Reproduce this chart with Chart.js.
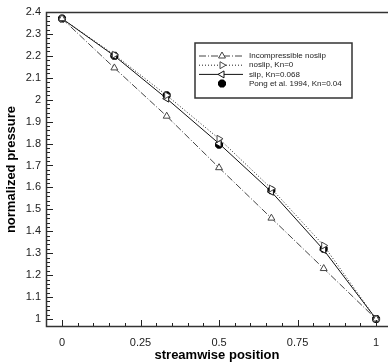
<!DOCTYPE html>
<html>
<head>
<meta charset="utf-8">
<script src="https://cdn.jsdelivr.net/npm/chart.js@4/dist/chart.umd.min.js"></script>
<style>
  html, body { margin: 0; padding: 0; background: #fff; }
  #wrap { width: 388px; height: 363px; }
</style>
</head>
<body>
<div id="wrap"><canvas id="c" width="388" height="363"></canvas></div>
<script>
// streamwise positions of the data points
const positions = [0, 0.1667, 0.3333, 0.5, 0.6667, 0.8333, 1];

// normalized pressure for each series
const incompNoslip = [2.37, 2.145, 1.925, 1.69, 1.46, 1.23, 1.0];
const noslipKn0 = [2.37, 2.205, 2.02, 1.822, 1.595, 1.335, 1.0];
const slipKn068 = [2.37, 2.2, 2.005, 1.8, 1.58, 1.315, 1.0];
const pong1994 = [2.37, 2.2, 2.02, 1.795, 1.587, 1.32, 1.0];

const seriesNames = [
    'Incompressible noslip',
    'noslip, Kn=0',
    'slip, Kn=0.068',
    'Pong et al. 1994, Kn=0.04'
];

// tick labels
const xTicks = [0, 0.25, 0.5, 0.75, 1];
const yTicks = [1, 1.1, 1.2, 1.3, 1.4, 1.5, 1.6, 1.7, 1.8, 1.9, 2, 2.1, 2.2, 2.3, 2.4];

function toPoints(vals) {
    return vals.map((v, i) => ({ x: positions[i], y: v }));
}

// inward ticks + frame, tecplot style
const framePlugin = {
    id: 'frame',
    afterDatasetsDraw(chart) {
        const ctx = chart.ctx;
        const a = chart.chartArea;
        const xs = chart.scales.x;
        const ys = chart.scales.y;
        ctx.save();
        ctx.strokeStyle = '#222';
        ctx.lineWidth = 1;
        ctx.beginPath();
        // major + minor ticks on x
        for (let i = 0; i <= 20; i++) {
            const v = i * 0.05;
            const px = Math.round(xs.getPixelForValue(v)) + 0.5;
            const len = (i % 5 === 0) ? 7 : 4;
            ctx.moveTo(px, a.bottom);
            ctx.lineTo(px, a.bottom - len);
        }
        // major + minor ticks on y
        for (let i = 0; i <= 70; i++) {
            const v = 1 + i * 0.02;
            const py = Math.round(ys.getPixelForValue(v)) + 0.5;
            const len = (i % 5 === 0) ? 7 : 4;
            ctx.moveTo(a.left, py);
            ctx.lineTo(a.left + len, py);
        }
        ctx.stroke();

        // frame; the right side runs off the picture
        ctx.lineWidth = 1.5;
        ctx.strokeStyle = '#333';
        ctx.strokeRect(a.left + 0.5, a.top + 0.5, a.right - a.left + 4, a.bottom - a.top - 1);
        ctx.restore();
    }
};

// legend box inside the plot
const boxLegend = {
    id: 'boxLegend',
    afterDraw(chart) {
        const ctx = chart.ctx;
        const bx = 195, by = 43, bw = 157, bh = 55;
        ctx.save();
        ctx.fillStyle = '#fff';
        ctx.fillRect(bx, by, bw, bh);
        ctx.strokeStyle = '#333';
        ctx.lineWidth = 1.5;
        ctx.strokeRect(bx, by, bw, bh);
        chart.data.datasets.forEach((ds, i) => {
            const y = 56 + i * 9.2;
            if (ds.showLine !== false) {
                ctx.beginPath();
                ctx.strokeStyle = ds.borderColor;
                ctx.lineWidth = ds.borderWidth;
                ctx.setLineDash(ds.borderDash || []);
                ctx.moveTo(199, y);
                ctx.lineTo(243, y);
                ctx.stroke();
                ctx.setLineDash([]);
            }
            ctx.fillStyle = ds.pointBackgroundColor;
            ctx.strokeStyle = ds.pointBorderColor;
            ctx.lineWidth = ds.pointBorderWidth;
            Chart.helpers.drawPoint(ctx, {
                pointStyle: ds.pointStyle,
                rotation: ds.pointRotation || 0,
                radius: ds.pointRadius,
                borderWidth: ds.pointBorderWidth
            }, 222, y);
            ctx.fillStyle = '#222';
            ctx.font = '8px "Liberation Sans", Arial, sans-serif';
            ctx.textBaseline = 'middle';
            ctx.fillText(ds.label, 249, y);
        });
        ctx.restore();
    }
};

const ctx = document.getElementById('c').getContext('2d');

new Chart(ctx, {
    type: 'line',
    data: {
        datasets: [
            {
                label: seriesNames[0],
                data: toPoints(incompNoslip),
                borderColor: '#444',
                borderWidth: 1,
                borderDash: [7, 2, 1, 2],
                pointStyle: 'triangle',
                pointRadius: 4,
                pointBorderWidth: 1,
                pointBorderColor: '#444',
                pointBackgroundColor: '#fff'
            },
            {
                label: seriesNames[1],
                data: toPoints(noslipKn0),
                borderColor: '#222',
                borderWidth: 1,
                borderDash: [1, 2],
                pointStyle: 'triangle',
                pointRotation: 90,
                pointRadius: 4,
                pointBorderWidth: 1,
                pointBorderColor: '#444',
                pointBackgroundColor: '#fff'
            },
            {
                label: seriesNames[2],
                data: toPoints(slipKn068),
                borderColor: '#111',
                borderWidth: 1,
                pointStyle: 'triangle',
                pointRotation: -90,
                pointRadius: 4,
                pointBorderWidth: 1,
                pointBorderColor: '#111',
                pointBackgroundColor: '#fff'
            },
            {
                label: seriesNames[3],
                data: toPoints(pong1994),
                showLine: false,
                borderColor: '#000',
                pointStyle: 'star',
                pointRadius: 4,
                pointBorderWidth: 3,
                pointBorderColor: '#000',
                pointBackgroundColor: '#000'
            }
        ]
    },
    options: {
        responsive: false,
        animation: false,
        layout: { autoPadding: false, padding: { top: 12, right: 0, left: 0, bottom: 0 } },
        plugins: {
            legend: { display: false },
            tooltip: { enabled: false }
        },
        scales: {
            x: {
                type: 'linear',
                min: -0.051,
                max: 1.038,
                grid: { display: false, drawTicks: false },
                border: { display: false },
                afterBuildTicks: (s) => { s.ticks = xTicks.map(v => ({ value: v })); },
                afterFit: (s) => { s.height = 36; s.paddingLeft = 0; s.paddingRight = 0; },
                ticks: {
                    padding: 9,
                    color: '#222',
                    font: { family: '"Liberation Sans", Arial, sans-serif', size: 11 },
                    callback: (v) => String(v)
                },
                title: {
                    display: true,
                    text: 'streamwise position',
                    color: '#000',
                    padding: { top: 0, bottom: 0 },
                    font: { family: '"Liberation Sans", Arial, sans-serif', size: 13, weight: 'bold' }
                }
            },
            y: {
                type: 'linear',
                min: 0.9635,
                max: 2.4,
                grid: { display: false, drawTicks: false },
                border: { display: false },
                afterBuildTicks: (s) => { s.ticks = yTicks.map(v => ({ value: v })); },
                afterFit: (s) => { s.width = 46; s.paddingTop = 0; s.paddingBottom = 0; },
                ticks: {
                    padding: 5,
                    color: '#222',
                    font: { family: '"Liberation Sans", Arial, sans-serif', size: 11 },
                    callback: (v) => String(v)
                },
                title: {
                    display: true,
                    text: 'normalized pressure',
                    color: '#000',
                    padding: { top: 4, bottom: 0 },
                    font: { family: '"Liberation Sans", Arial, sans-serif', size: 13, weight: 'bold' }
                }
            }
        }
    },
    plugins: [framePlugin, boxLegend]
});
</script>
</body>
</html>
